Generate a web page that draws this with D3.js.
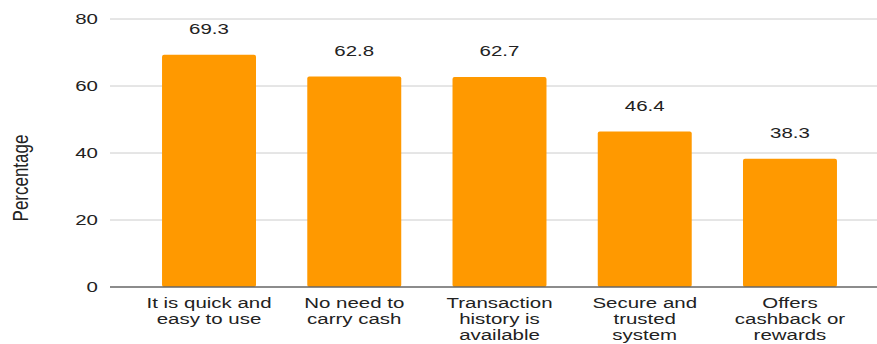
<!DOCTYPE html>
<html><head><meta charset="utf-8">
<script src="https://cdn.jsdelivr.net/npm/d3@7"></script>
<style>body{margin:0;background:#fff}svg{display:block;font-family:"Liberation Sans",Arial,sans-serif}</style>
</head><body><svg id="c" width="877" height="344"></svg>
<script>
const categories = ["It is quick and\neasy to use", "No need to\ncarry cash", "Transaction\nhistory is\navailable", "Secure and\ntrusted\nsystem", "Offers\ncashback or\nrewards"];
const values = [69.3, 62.8, 62.7, 46.4, 38.3];
const yTicks = [0, 20, 40, 60, 80];
const yTitle = "Percentage";

const SX = 1.32; // horizontal text stretch seen in the reference
const svg = d3.select("#c");
const y = d3.scaleLinear().domain([0, 80]).range([287, 19]);
const x = d3.scaleBand().domain(categories).range([136.4, 862.6]).paddingInner(0.353).paddingOuter(0.1765);

// gridlines
svg.append("g").selectAll("line").data(yTicks.filter(d => d !== 0)).join("line")
  .attr("x1", 110).attr("x2", 877).attr("y1", d => y(d)).attr("y2", d => y(d))
  .attr("stroke", "#cccccc").attr("stroke-width", 1);

// y tick labels
svg.append("g").selectAll("text").data(yTicks).join("text")
  .attr("transform", d => `translate(98,${y(d)}) scale(${SX},1)`).attr("dy", "0.35em")
  .attr("text-anchor", "end").attr("font-size", 15.5).attr("fill", "#222").text(d => d);

// bars
svg.append("g").selectAll("rect").data(values).join("rect")
  .attr("x", (d, i) => x(categories[i])).attr("width", x.bandwidth())
  .attr("y", d => y(d)).attr("height", d => y(0) - y(d))
  .attr("rx", 2).attr("fill", "#ff9900");

// baseline
svg.append("line").attr("x1", 110).attr("x2", 877).attr("y1", y(0)).attr("y2", y(0))
  .attr("stroke", "#666").attr("stroke-width", 1.5);

// value labels
svg.append("g").selectAll("text").data(values).join("text")
  .attr("transform", (d, i) => `translate(${x(categories[i]) + x.bandwidth() / 2},${y(d) - 20.5}) scale(${SX},1)`)
  .attr("text-anchor", "middle").attr("font-size", 15.5).attr("fill", "#222").text(d => d.toFixed(1));

// category labels
const cl = svg.append("g").selectAll("text").data(categories).join("text")
  .attr("transform", d => `translate(${x(d) + x.bandwidth() / 2},308) scale(${SX},1)`)
  .attr("text-anchor", "middle").attr("font-size", 15.5).attr("fill", "#222");
cl.each(function(d) {
  const t = d3.select(this);
  d.split("\n").forEach((line, j) => {
    t.append("tspan").attr("x", 0).attr("y", j * 16).text(line);
  });
});

// y title
svg.append("text").attr("transform", `translate(28,178) scale(${SX},1) rotate(-90)`)
  .attr("text-anchor", "middle").attr("font-size", 17).attr("fill", "#222").text(yTitle);
</script></body></html>
